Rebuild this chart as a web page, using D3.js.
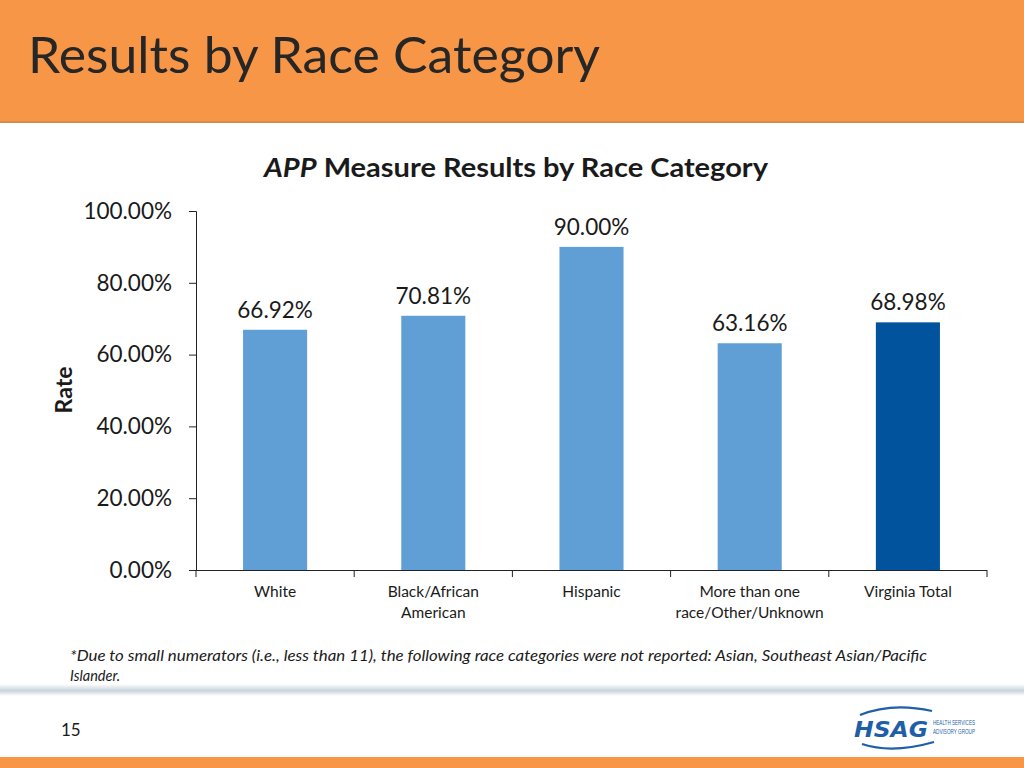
<!DOCTYPE html>
<html><head><meta charset="utf-8">
<script src="https://cdn.jsdelivr.net/npm/d3@7"></script>
<style>html,body{margin:0;padding:0;background:#fff;}svg{display:block;}</style>
</head><body>
<script>
const categories = ["White", "Black/African American", "Hispanic", "More than one race/Other/Unknown", "Virginia Total"];
const categoryLines = [["White"], ["Black/African", "American"], ["Hispanic"], ["More than one", "race/Other/Unknown"], ["Virginia Total"]];
const rates = [66.92, 70.81, 90.00, 63.16, 68.98];
const yTicks = [0, 20, 40, 60, 80, 100];
const barColors = ["#5F9FD6", "#5F9FD6", "#5F9FD6", "#5F9FD6", "#00539C"];

const W = 1024, H = 768;
const font = "Lato, 'Open Sans', sans-serif";
const svg = d3.select("body").append("svg").attr("width", W).attr("height", H);

// header
svg.append("rect").attr("x",0).attr("y",0).attr("width",W).attr("height",122).attr("fill","#F79646");
svg.append("rect").attr("x",0).attr("y",121).attr("width",W).attr("height",2).attr("fill","#D98A4E");
svg.append("text").attr("x",28).attr("y",73).attr("font-family",font).attr("font-size",50)
  .attr("fill","#262626").attr("textLength",572).attr("lengthAdjust","spacingAndGlyphs")
  .text("Results by Race Category");

// chart title
const t = svg.append("text").attr("x",264).attr("y",177)
  .attr("font-family",font).attr("font-size",27).attr("font-weight","bold").attr("fill","#1a1a1a")
  .attr("textLength",504).attr("lengthAdjust","spacingAndGlyphs");
t.append("tspan").attr("font-style","italic").text("APP");
t.append("tspan").text(" Measure Results by Race Category");

const x = d3.scaleBand().domain(categories).range([196, 987]).paddingInner(0.595).paddingOuter(0.2975);
const y = d3.scaleLinear().domain([0, 100]).range([570, 211]);

const xBand = d3.scaleBand().domain(categories).range([196, 987]);

// bars
svg.append("g").selectAll("rect").data(rates).join("rect")
  .attr("x",(d,i)=>x(categories[i])).attr("width",x.bandwidth())
  .attr("y",d=>y(d)).attr("height",d=>570-y(d)).attr("fill",(d,i)=>barColors[i]);

// value labels
svg.append("g").selectAll("text").data(rates).join("text")
  .attr("x",(d,i)=>x(categories[i])+x.bandwidth()/2).attr("y",d=>y(d)-12)
  .attr("text-anchor","middle").attr("font-family",font).attr("font-size",22.5).attr("fill","#1a1a1a")
  .text(d=>d.toFixed(2)+"%");

// y axis
const yAxis = svg.append("g").attr("transform","translate(196,0)")
  .call(d3.axisLeft(y).tickValues(yTicks).tickSize(7).tickPadding(17).tickFormat(d=>d.toFixed(2)+"%"));
yAxis.select(".domain").attr("stroke","#222").attr("d","M-7,211.5H0.5V570");
yAxis.selectAll(".tick line").attr("stroke","#222");
yAxis.selectAll(".tick text").attr("font-family",font).attr("font-size",22.5).attr("fill","#1a1a1a");

// x axis
const xAxis = svg.append("g").attr("transform","translate(0,570)")
  .call(d3.axisBottom(xBand).tickSize(0).tickFormat(""));
xAxis.select(".domain").attr("stroke","#222").attr("d","M196,0.5H987");
svg.append("g").selectAll("line").data(d3.range(categories.length+1)).join("line")
  .attr("x1",i=>i<categories.length? xBand(categories[i]) : xBand(categories[i-1])+xBand.bandwidth())
  .attr("x2",i=>i<categories.length? xBand(categories[i]) : xBand(categories[i-1])+xBand.bandwidth())
  .attr("y1",570).attr("y2",577).attr("stroke","#222");

// x labels
const xl = svg.append("g").selectAll("text").data(categoryLines).join("text")
  .attr("x",(d,i)=>xBand(categories[i])+xBand.bandwidth()/2).attr("y",597)
  .attr("text-anchor","middle").attr("font-family",font).attr("font-size",15.5).attr("fill","#1a1a1a");
xl.selectAll("tspan").data(d=>d).join("tspan")
  .attr("x",function(){return this.parentNode.getAttribute("x");})
  .attr("dy",(d,i)=>i===0?0:21).text(d=>d);

// y axis title
svg.append("text").attr("transform","translate(72,390) rotate(-90)").attr("text-anchor","middle")
  .attr("font-family",font).attr("font-size",23).attr("font-weight","bold").attr("fill","#1a1a1a").text("Rate");

// footnote
svg.append("text").attr("x",70).attr("y",661).attr("font-family",font).attr("font-size",14.5)
  .attr("font-style","italic").attr("fill","#1a1a1a").attr("textLength",857).attr("lengthAdjust","spacingAndGlyphs")
  .text("*Due to small numerators (i.e., less than 11), the following race categories were not reported: Asian, Southeast Asian/Pacific");
svg.append("text").attr("x",70).attr("y",681).attr("font-family",font).attr("font-size",14.5)
  .attr("font-style","italic").attr("fill","#1a1a1a").text("Islander.");

// footer shadow band
const defs = svg.append("defs");
const g1 = defs.append("linearGradient").attr("id","shade").attr("x1",0).attr("y1",0).attr("x2",0).attr("y2",1);
g1.append("stop").attr("offset","0%").attr("stop-color","#ffffff");
g1.append("stop").attr("offset","55%").attr("stop-color","#C9D3DC");
g1.append("stop").attr("offset","100%").attr("stop-color","#ffffff");
svg.append("rect").attr("x",0).attr("y",684).attr("width",W).attr("height",12).attr("fill","url(#shade)");

// page number
svg.append("text").attr("x",61).attr("y",736).attr("font-family",font).attr("font-size",17).attr("fill","#1a1a1a").text("15");

// logo
const logo = svg.append("g").attr("transform","translate(852,706)");
logo.append("path").attr("d","M8,9 Q40,-4 80,5").attr("fill","none").attr("stroke","#1F5FA8").attr("stroke-width",2.2);
logo.append("path").attr("d","M10,38 Q40,48 82,36").attr("fill","none").attr("stroke","#1F5FA8").attr("stroke-width",2.2);
logo.append("text").attr("x",2).attr("y",31).attr("font-family","'DejaVu Sans', sans-serif").attr("font-size",22)
  .attr("font-weight","bold").attr("font-style","italic").attr("fill","#1F5FA8")
  .attr("textLength",74).attr("lengthAdjust","spacingAndGlyphs").text("HSAG");
logo.append("text").attr("x",81).attr("y",19).attr("font-family","'Liberation Sans Narrow', 'Liberation Sans', sans-serif").attr("font-size",7.5)
  .attr("fill","#1F5FA8").attr("textLength",42).attr("lengthAdjust","spacingAndGlyphs").text("HEALTH SERVICES");
logo.append("text").attr("x",81).attr("y",28).attr("font-family","'Liberation Sans Narrow', 'Liberation Sans', sans-serif").attr("font-size",7.5)
  .attr("fill","#1F5FA8").attr("textLength",42).attr("lengthAdjust","spacingAndGlyphs").text("ADVISORY GROUP");

// bottom bar
svg.append("rect").attr("x",0).attr("y",757).attr("width",W).attr("height",11).attr("fill","#F79646");
</script>
</body></html>
